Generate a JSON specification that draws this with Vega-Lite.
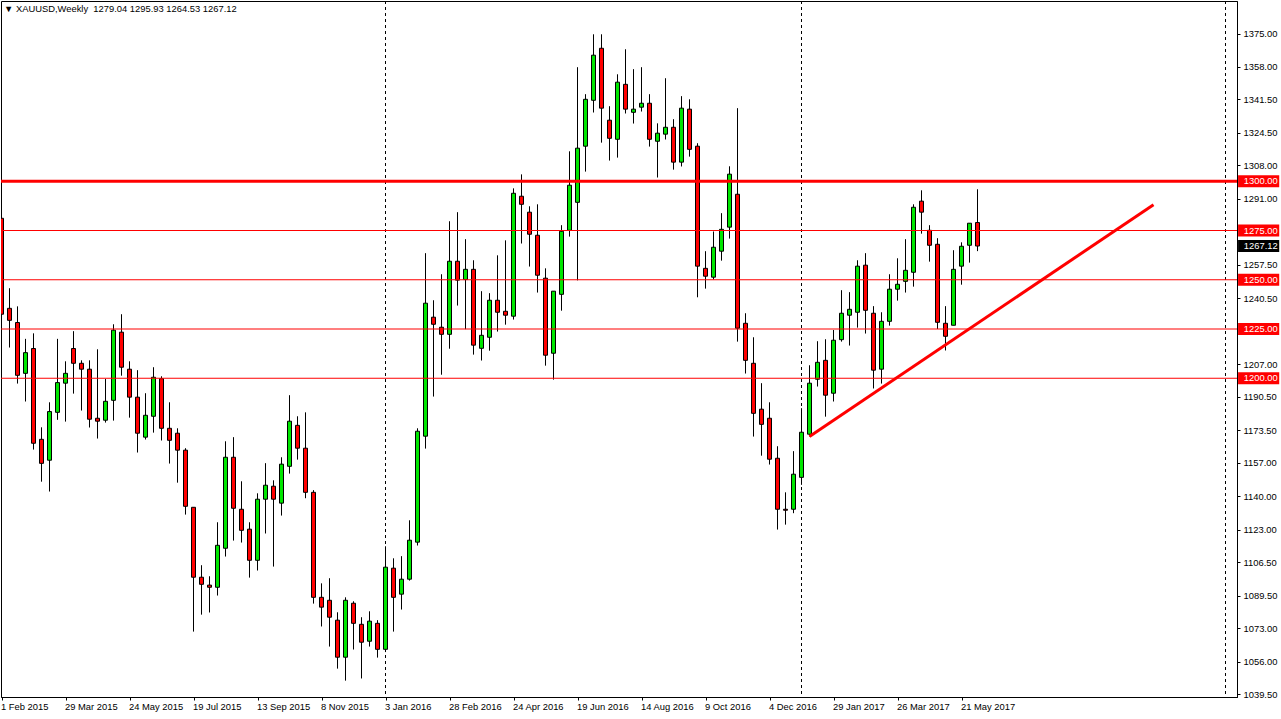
{
  "$schema": "https://vega.github.io/schema/vega-lite/v6.json",
  "width": 1236,
  "height": 696,
  "autosize": "none",
  "padding": {"left": 1, "top": 1, "right": 44, "bottom": 22},
  "background": "#ffffff",
  "title": {
    "text": "▼ XAUUSD,Weekly\u00a0\u00a01279.04 1295.93 1264.53 1267.12",
    "anchor": "start",
    "frame": "group",
    "offset": -14,
    "dx": 3,
    "fontSize": 9.4,
    "fontWeight": "normal",
    "font": "Liberation Sans",
    "color": "#000000"
  },
  "config": {
    "view": {"stroke": "#000000", "strokeWidth": 1},
    "font": "Liberation Sans"
  },
  "datasets": {
    "candles": [
      {"week":"2015-02-01","open":1281.2,"high":1286.0,"low":1227.9,"close":1232.5},
      {"week":"2015-02-08","open":1235.5,"high":1245.7,"low":1215.6,"close":1229.4},
      {"week":"2015-02-15","open":1228.3,"high":1236.5,"low":1197.3,"close":1201.5},
      {"week":"2015-02-22","open":1202.5,"high":1220.0,"low":1188.2,"close":1213.0},
      {"week":"2015-03-01","open":1215.1,"high":1222.8,"low":1163.8,"close":1167.0},
      {"week":"2015-03-08","open":1169.0,"high":1175.1,"low":1147.5,"close":1156.8},
      {"week":"2015-03-15","open":1158.4,"high":1187.8,"low":1142.5,"close":1183.1},
      {"week":"2015-03-22","open":1182.7,"high":1220.0,"low":1178.9,"close":1197.8},
      {"week":"2015-03-29","open":1197.5,"high":1208.6,"low":1178.0,"close":1202.5},
      {"week":"2015-04-05","open":1215.1,"high":1223.9,"low":1192.2,"close":1207.6},
      {"week":"2015-04-12","open":1207.6,"high":1209.1,"low":1183.6,"close":1204.6},
      {"week":"2015-04-19","open":1204.6,"high":1209.1,"low":1175.0,"close":1179.2},
      {"week":"2015-04-26","open":1179.7,"high":1214.7,"low":1169.4,"close":1178.2},
      {"week":"2015-05-03","open":1178.7,"high":1199.7,"low":1177.5,"close":1188.3},
      {"week":"2015-05-10","open":1188.8,"high":1227.4,"low":1178.5,"close":1224.4},
      {"week":"2015-05-17","open":1223.4,"high":1232.5,"low":1201.3,"close":1205.6},
      {"week":"2015-05-24","open":1204.6,"high":1208.6,"low":1180.0,"close":1190.4},
      {"week":"2015-05-31","open":1190.4,"high":1204.1,"low":1162.3,"close":1172.1},
      {"week":"2015-06-07","open":1170.1,"high":1192.4,"low":1168.9,"close":1181.2},
      {"week":"2015-06-14","open":1180.7,"high":1205.6,"low":1172.4,"close":1200.5},
      {"week":"2015-06-21","open":1199.8,"high":1201.0,"low":1168.4,"close":1174.6},
      {"week":"2015-06-28","open":1174.6,"high":1187.8,"low":1156.7,"close":1168.5},
      {"week":"2015-07-05","open":1172.1,"high":1174.6,"low":1147.0,"close":1163.5},
      {"week":"2015-07-12","open":1163.5,"high":1164.5,"low":1130.8,"close":1135.0},
      {"week":"2015-07-19","open":1134.5,"high":1134.5,"low":1071.4,"close":1099.0},
      {"week":"2015-07-26","open":1099.0,"high":1105.1,"low":1080.0,"close":1095.4},
      {"week":"2015-08-02","open":1095.0,"high":1099.5,"low":1081.1,"close":1093.9},
      {"week":"2015-08-09","open":1093.9,"high":1126.9,"low":1089.7,"close":1115.2},
      {"week":"2015-08-16","open":1113.7,"high":1168.0,"low":1109.5,"close":1159.9},
      {"week":"2015-08-23","open":1159.9,"high":1170.1,"low":1117.6,"close":1134.0},
      {"week":"2015-08-30","open":1133.5,"high":1147.7,"low":1116.6,"close":1122.8},
      {"week":"2015-09-06","open":1123.4,"high":1126.9,"low":1098.8,"close":1107.6},
      {"week":"2015-09-13","open":1107.6,"high":1141.6,"low":1102.4,"close":1138.6},
      {"week":"2015-09-20","open":1138.6,"high":1156.9,"low":1121.2,"close":1145.7},
      {"week":"2015-09-27","open":1145.2,"high":1148.2,"low":1104.4,"close":1138.6},
      {"week":"2015-10-04","open":1136.6,"high":1159.9,"low":1130.3,"close":1156.4},
      {"week":"2015-10-11","open":1155.3,"high":1191.4,"low":1151.6,"close":1178.2},
      {"week":"2015-10-18","open":1176.1,"high":1180.7,"low":1158.7,"close":1164.5},
      {"week":"2015-10-25","open":1164.5,"high":1182.7,"low":1139.1,"close":1142.1},
      {"week":"2015-11-01","open":1142.1,"high":1143.2,"low":1085.6,"close":1088.8},
      {"week":"2015-11-08","open":1088.8,"high":1095.9,"low":1074.0,"close":1083.8},
      {"week":"2015-11-15","open":1087.3,"high":1098.5,"low":1063.8,"close":1078.7},
      {"week":"2015-11-22","open":1077.2,"high":1081.2,"low":1052.6,"close":1058.4},
      {"week":"2015-11-29","open":1058.4,"high":1088.8,"low":1046.5,"close":1087.3},
      {"week":"2015-12-06","open":1085.8,"high":1086.8,"low":1062.3,"close":1075.6},
      {"week":"2015-12-13","open":1075.1,"high":1078.7,"low":1047.6,"close":1066.0},
      {"week":"2015-12-20","open":1066.5,"high":1081.7,"low":1063.8,"close":1076.7},
      {"week":"2015-12-27","open":1075.6,"high":1077.2,"low":1058.2,"close":1062.4},
      {"week":"2016-01-03","open":1062.4,"high":1114.7,"low":1061.0,"close":1104.1},
      {"week":"2016-01-10","open":1103.6,"high":1108.6,"low":1071.4,"close":1088.8},
      {"week":"2016-01-17","open":1090.4,"high":1109.7,"low":1082.6,"close":1098.0},
      {"week":"2016-01-24","open":1098.0,"high":1127.9,"low":1097.3,"close":1117.8},
      {"week":"2016-01-31","open":1116.8,"high":1174.6,"low":1115.1,"close":1173.1},
      {"week":"2016-02-07","open":1170.6,"high":1263.5,"low":1164.3,"close":1238.1},
      {"week":"2016-02-14","open":1231.0,"high":1239.6,"low":1190.7,"close":1227.4},
      {"week":"2016-02-21","open":1225.9,"high":1252.8,"low":1201.8,"close":1222.3},
      {"week":"2016-02-28","open":1222.3,"high":1279.7,"low":1215.0,"close":1259.4},
      {"week":"2016-03-06","open":1259.4,"high":1284.3,"low":1236.9,"close":1249.8},
      {"week":"2016-03-13","open":1250.1,"high":1270.6,"low":1224.9,"close":1255.3},
      {"week":"2016-03-20","open":1255.3,"high":1259.9,"low":1212.0,"close":1216.8},
      {"week":"2016-03-27","open":1215.2,"high":1244.2,"low":1209.0,"close":1221.8},
      {"week":"2016-04-03","open":1220.8,"high":1243.2,"low":1214.0,"close":1239.6},
      {"week":"2016-04-10","open":1239.6,"high":1262.4,"low":1223.7,"close":1233.5},
      {"week":"2016-04-17","open":1234.0,"high":1270.0,"low":1227.2,"close":1232.0},
      {"week":"2016-04-24","open":1231.5,"high":1296.4,"low":1229.8,"close":1293.9},
      {"week":"2016-05-01","open":1292.4,"high":1303.5,"low":1268.4,"close":1288.3},
      {"week":"2016-05-08","open":1284.3,"high":1287.3,"low":1256.7,"close":1273.1},
      {"week":"2016-05-15","open":1272.6,"high":1288.3,"low":1243.5,"close":1252.3},
      {"week":"2016-05-22","open":1250.8,"high":1255.8,"low":1206.4,"close":1211.7},
      {"week":"2016-05-29","open":1212.7,"high":1244.2,"low":1199.3,"close":1244.2},
      {"week":"2016-06-05","open":1242.6,"high":1277.7,"low":1234.3,"close":1274.6},
      {"week":"2016-06-12","open":1275.1,"high":1315.2,"low":1271.9,"close":1298.0},
      {"week":"2016-06-19","open":1289.3,"high":1357.9,"low":1249.7,"close":1316.8},
      {"week":"2016-06-26","open":1317.8,"high":1344.2,"low":1304.9,"close":1341.6},
      {"week":"2016-07-03","open":1341.1,"high":1374.6,"low":1334.9,"close":1364.0},
      {"week":"2016-07-10","open":1367.5,"high":1374.6,"low":1319.6,"close":1337.1},
      {"week":"2016-07-17","open":1331.0,"high":1338.1,"low":1310.5,"close":1321.8},
      {"week":"2016-07-24","open":1321.3,"high":1354.3,"low":1312.0,"close":1350.3},
      {"week":"2016-07-31","open":1349.2,"high":1367.0,"low":1334.4,"close":1336.6},
      {"week":"2016-08-07","open":1335.0,"high":1356.9,"low":1329.3,"close":1336.6},
      {"week":"2016-08-14","open":1337.6,"high":1357.9,"low":1335.4,"close":1339.6},
      {"week":"2016-08-21","open":1339.6,"high":1344.2,"low":1317.6,"close":1321.3},
      {"week":"2016-08-28","open":1320.3,"high":1329.4,"low":1301.9,"close":1324.4},
      {"week":"2016-09-04","open":1323.9,"high":1352.3,"low":1321.2,"close":1327.4},
      {"week":"2016-09-11","open":1327.4,"high":1331.5,"low":1305.9,"close":1309.7},
      {"week":"2016-09-18","open":1309.7,"high":1343.2,"low":1307.5,"close":1337.1},
      {"week":"2016-09-25","open":1336.6,"high":1341.6,"low":1312.5,"close":1316.2},
      {"week":"2016-10-02","open":1317.8,"high":1319.3,"low":1241.1,"close":1256.9},
      {"week":"2016-10-09","open":1255.8,"high":1264.5,"low":1245.5,"close":1251.8},
      {"week":"2016-10-16","open":1251.3,"high":1274.5,"low":1250.1,"close":1266.5},
      {"week":"2016-10-23","open":1264.5,"high":1283.8,"low":1259.7,"close":1275.6},
      {"week":"2016-10-30","open":1276.7,"high":1307.6,"low":1270.9,"close":1303.6},
      {"week":"2016-11-06","open":1293.4,"high":1337.1,"low":1218.6,"close":1225.4},
      {"week":"2016-11-13","open":1227.9,"high":1233.0,"low":1202.4,"close":1209.1},
      {"week":"2016-11-20","open":1207.6,"high":1220.8,"low":1170.4,"close":1182.2},
      {"week":"2016-11-27","open":1184.3,"high":1197.5,"low":1160.7,"close":1176.6},
      {"week":"2016-12-04","open":1179.7,"high":1187.8,"low":1156.2,"close":1158.9},
      {"week":"2016-12-11","open":1159.4,"high":1165.5,"low":1123.2,"close":1133.5},
      {"week":"2016-12-18","open":1133.5,"high":1142.1,"low":1125.7,"close":1133.0},
      {"week":"2016-12-25","open":1133.5,"high":1163.0,"low":1131.5,"close":1151.3},
      {"week":"2017-01-01","open":1149.7,"high":1184.8,"low":1145.9,"close":1172.6},
      {"week":"2017-01-08","open":1171.6,"high":1206.6,"low":1170.4,"close":1197.5},
      {"week":"2017-01-15","open":1199.5,"high":1218.8,"low":1195.8,"close":1208.1},
      {"week":"2017-01-22","open":1209.1,"high":1219.8,"low":1180.5,"close":1191.4},
      {"week":"2017-01-29","open":1192.4,"high":1224.5,"low":1188.2,"close":1219.3},
      {"week":"2017-02-05","open":1219.6,"high":1244.7,"low":1218.6,"close":1233.0},
      {"week":"2017-02-12","open":1232.0,"high":1243.7,"low":1216.6,"close":1235.0},
      {"week":"2017-02-19","open":1233.5,"high":1259.9,"low":1225.7,"close":1256.9},
      {"week":"2017-02-26","open":1257.4,"high":1263.5,"low":1222.7,"close":1234.5},
      {"week":"2017-03-05","open":1233.0,"high":1236.6,"low":1194.8,"close":1204.1},
      {"week":"2017-03-12","open":1204.6,"high":1233.5,"low":1197.3,"close":1228.9},
      {"week":"2017-03-19","open":1228.9,"high":1252.8,"low":1226.7,"close":1245.2},
      {"week":"2017-03-26","open":1245.2,"high":1260.9,"low":1239.4,"close":1247.7},
      {"week":"2017-04-02","open":1249.2,"high":1270.6,"low":1243.5,"close":1254.8},
      {"week":"2017-04-09","open":1253.8,"high":1288.3,"low":1246.5,"close":1286.8},
      {"week":"2017-04-16","open":1289.9,"high":1295.4,"low":1273.4,"close":1284.3},
      {"week":"2017-04-23","open":1275.1,"high":1277.7,"low":1259.2,"close":1267.5},
      {"week":"2017-04-30","open":1268.0,"high":1271.1,"low":1225.0,"close":1228.4},
      {"week":"2017-05-07","open":1227.9,"high":1236.6,"low":1214.1,"close":1221.3},
      {"week":"2017-05-14","open":1226.9,"high":1265.0,"low":1226.9,"close":1255.3},
      {"week":"2017-05-21","open":1256.9,"high":1269.0,"low":1247.5,"close":1267.0},
      {"week":"2017-05-28","open":1267.5,"high":1278.7,"low":1258.7,"close":1278.7},
      {"week":"2017-06-04","open":1279.04,"high":1295.93,"low":1264.53,"close":1267.12}
    ],
    "separators": [
      {"week":"2016-01-03"},
      {"week":"2017-01-01"},
      {"week":"2018-01-07"}
    ],
    "levels": [
      {"level":1300,"kind":"major"},
      {"level":1275,"kind":"minor"},
      {"level":1250,"kind":"minor"},
      {"level":1225,"kind":"minor"},
      {"level":1200,"kind":"minor"}
    ],
    "trend": [
      {"week":"2017-01-08","price":1170.4},
      {"week":"2017-11-05","price":1288.1}
    ],
    "tags": [
      {"level":1300,"kind":"level"},
      {"level":1275,"kind":"level"},
      {"level":1250,"kind":"level"},
      {"level":1225,"kind":"level"},
      {"level":1200,"kind":"level"},
      {"level":1267.12,"kind":"close"}
    ]
  },
  "data": {"name": "candles"},
  "resolve": {"axis": {"x": "independent", "y": "independent"}},
  "layer": [
    {
      "data": {"name": "separators"},
      "mark": {"type": "rule", "color": "#000000", "strokeWidth": 1, "strokeDash": [3, 3]},
      "encoding": {
        "x": {"field": "week", "type": "temporal", "axis": null, "scale": {"type": "utc", "nice": false, "padding": 0, "domain": ["2015-01-31T13:30:00Z", "2018-01-17T01:30:00Z"]}}
      }
    },
    {
      "mark": {"type": "rule", "color": "#000000", "strokeWidth": 1, "clip": true},
      "encoding": {
        "x": {
          "field": "week",
          "type": "temporal",
          "title": null,
          "scale": {"type": "utc", "nice": false, "padding": 0, "domain": ["2015-01-31T13:30:00Z", "2018-01-17T01:30:00Z"]},
          "axis": {
            "values": ["2015-02-01","2015-03-29","2015-05-24","2015-07-19","2015-09-13","2015-11-08","2016-01-03","2016-02-28","2016-04-24","2016-06-19","2016-08-14","2016-10-09","2016-12-04","2017-01-29","2017-03-26","2017-05-21"],
            "labelExpr": "utcFormat(datum.value, '%-d %b %Y')",
            "grid": false,
            "tickColor": "#000000",
            "tickSize": 3,
            "domainColor": "#000000",
            "labelAlign": "left",
            "labelBaseline": "middle",
            "labelPadding": 6,
            "labelOffset": -1,
            "labelFontSize": 9.4,
            "labelColor": "#000000",
            "labelFlush": false,
            "labelOverlap": false
          }
        },
        "y": {
          "field": "low",
          "type": "quantitative",
          "title": null,
          "scale": {"domain": [1038.2, 1391.5], "nice": false, "zero": false, "padding": 0},
          "axis": {
            "orient": "right",
            "values": [1375,1358,1341.5,1324.5,1308,1291,1257.5,1240.5,1207,1190.5,1173.5,1157,1140,1123,1106.5,1089.5,1073,1056,1039.5],
            "format": ".2f",
            "grid": false,
            "tickColor": "#000000",
            "tickSize": 3,
            "domainColor": "#000000",
            "labelPadding": 3,
            "labelFontSize": 9.4,
            "labelColor": "#000000",
            "labelOverlap": false
          }
        },
        "y2": {"field": "high"}
      }
    },
    {
      "mark": {"type": "bar", "size": 4, "stroke": "#000000", "strokeWidth": 1, "clip": true},
      "encoding": {
        "x": {"field": "week", "type": "temporal", "axis": null, "scale": {"type": "utc", "nice": false, "padding": 0, "domain": ["2015-01-31T13:30:00Z", "2018-01-17T01:30:00Z"]}},
        "y": {"field": "open", "type": "quantitative", "axis": null, "scale": {"domain": [1038.2, 1391.5], "nice": false, "zero": false, "padding": 0}},
        "y2": {"field": "close"},
        "fill": {
          "condition": {"test": "datum.close >= datum.open", "value": "#00e600"},
          "value": "#ff0000"
        }
      }
    },
    {
      "data": {"name": "levels"},
      "transform": [{"filter": "datum.kind === 'minor'"}],
      "mark": {"type": "rule", "color": "#ff0000", "strokeWidth": 1.1},
      "encoding": {
        "y": {"field": "level", "type": "quantitative", "axis": null, "scale": {"domain": [1038.2, 1391.5], "nice": false, "zero": false, "padding": 0}}
      }
    },
    {
      "data": {"name": "levels"},
      "transform": [{"filter": "datum.kind === 'major'"}],
      "mark": {"type": "rule", "color": "#ff0000", "strokeWidth": 3},
      "encoding": {
        "y": {"field": "level", "type": "quantitative", "axis": null, "scale": {"domain": [1038.2, 1391.5], "nice": false, "zero": false, "padding": 0}}
      }
    },
    {
      "data": {"name": "trend"},
      "mark": {"type": "line", "color": "#ff0000", "strokeWidth": 3},
      "encoding": {
        "x": {"field": "week", "type": "temporal", "axis": null, "scale": {"type": "utc", "nice": false, "padding": 0, "domain": ["2015-01-31T13:30:00Z", "2018-01-17T01:30:00Z"]}},
        "y": {"field": "price", "type": "quantitative", "axis": null, "scale": {"domain": [1038.2, 1391.5], "nice": false, "zero": false, "padding": 0}}
      }
    },
    {
      "data": {"name": "tags"},
      "mark": {"type": "bar", "orient": "horizontal", "size": 12, "clip": false},
      "encoding": {
        "x": {"datum": {"year": 2018, "month": "jan", "date": 18, "utc": true}, "type": "temporal", "axis": null, "scale": {"type": "utc", "nice": false, "padding": 0, "domain": ["2015-01-31T13:30:00Z", "2018-01-17T01:30:00Z"]}},
        "x2": {"datum": {"year": 2018, "month": "feb", "date": 23, "utc": true}},
        "y": {"field": "level", "type": "quantitative", "axis": null, "scale": {"domain": [1038.2, 1391.5], "nice": false, "zero": false, "padding": 0}},
        "fill": {
          "condition": {"test": "datum.kind === 'close'", "value": "#000000"},
          "value": "#ff0000"
        }
      }
    },
    {
      "data": {"name": "tags"},
      "mark": {"type": "text", "align": "left", "baseline": "middle", "color": "#ffffff", "fontSize": 9.4, "clip": false},
      "encoding": {
        "x": {"datum": {"year": 2018, "month": "jan", "date": 23, "utc": true}, "type": "temporal", "axis": null, "scale": {"type": "utc", "nice": false, "padding": 0, "domain": ["2015-01-31T13:30:00Z", "2018-01-17T01:30:00Z"]}},
        "y": {"field": "level", "type": "quantitative", "axis": null, "scale": {"domain": [1038.2, 1391.5], "nice": false, "zero": false, "padding": 0}},
        "text": {"field": "level", "type": "quantitative", "format": ".2f"}
      }
    }
  ]
}
